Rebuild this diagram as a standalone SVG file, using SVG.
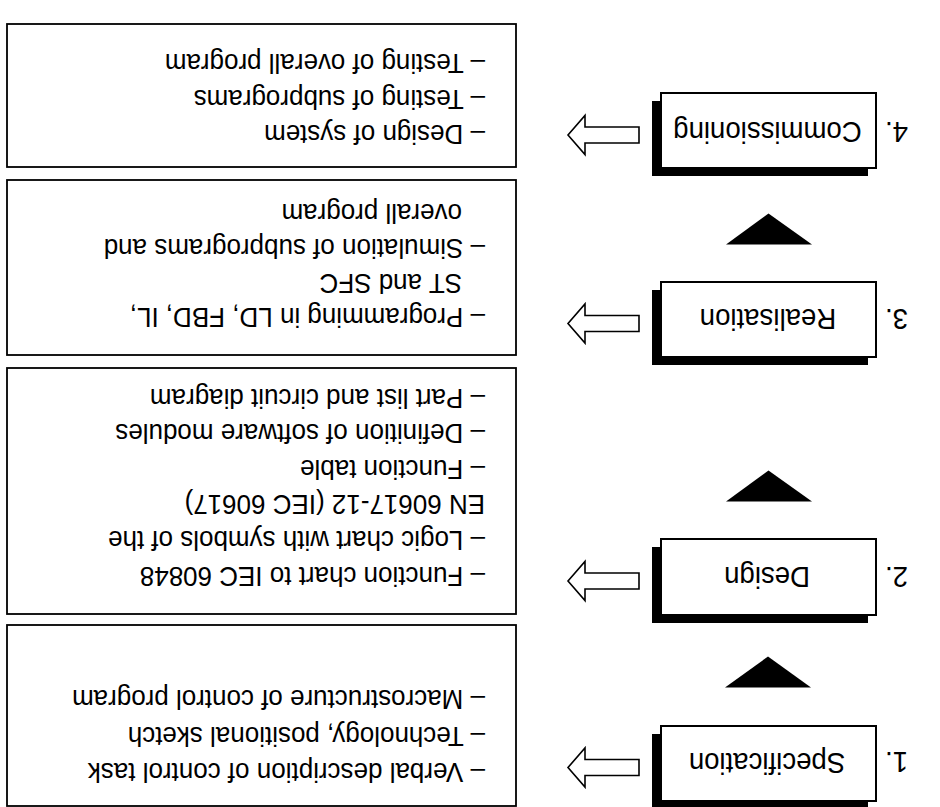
<svg xmlns="http://www.w3.org/2000/svg" width="940" height="807" viewBox="0 0 940 807">
<style>
.bg{fill:#fff}
.step{fill:#fff;stroke:#000;stroke-width:2}
.shadow{fill:#000}
.desc{fill:#fff;stroke:#000;stroke-width:1.8}
.lbl{font-family:"Liberation Sans",Arial,sans-serif;font-size:30px;fill:#000;text-anchor:middle}
.num{font-family:"Liberation Sans",Arial,sans-serif;font-size:30px;fill:#000}
.txt{font-family:"Liberation Sans",Arial,sans-serif;font-size:28.5px;fill:#000}
.harrow{fill:#fff;stroke:#000;stroke-width:1.6;stroke-linejoin:miter}
.tri{fill:#000}
</style>
<rect class="bg" x="0" y="0" width="940" height="807"/>
<g transform="rotate(180 470 403.5)">
  <g id="connectors">
    <polygon class="tri" points="129,119.5 215,119.5 172,150.5"/>
    <polygon class="tri" points="128,305.5 214,305.5 171.5,336.5"/>
    <polygon class="tri" points="128,562.5 214,562.5 171.5,593.5"/>
    <path class="harrow" d="M301,31.5 L355,31.5 L355,20 L372,39.5 L355,59 L355,47.5 L301,47.5 Z"/>
    <path class="harrow" d="M301,218 L355,218 L355,206.5 L372,226 L355,245.5 L355,234 L301,234 Z"/>
    <path class="harrow" d="M301,475.5 L355,475.5 L355,464 L372,483.5 L355,503 L355,491.5 L301,491.5 Z"/>
    <path class="harrow" d="M301,664 L355,664 L355,652.5 L372,672 L355,691.5 L355,680 L301,680 Z"/>
  </g>
  <g id="step1">
    <rect class="shadow" x="72" y="-2" width="216" height="75"/>
    <rect class="step" x="64" y="6" width="215" height="75"/>
    <text class="num" transform="translate(32 55) scale(0.92 1)">1.</text>
    <text class="lbl" transform="translate(173 54.5) scale(0.92 1)">Specification</text>
  </g>
  <g id="step2">
    <rect class="shadow" x="72" y="184" width="216" height="76"/>
    <rect class="step" x="64" y="192" width="215" height="76"/>
    <text class="num" transform="translate(32 240.5) scale(0.92 1)">2.</text>
    <text class="lbl" transform="translate(173 240.5) scale(0.92 1)">Design</text>
  </g>
  <g id="step3">
    <rect class="shadow" x="72" y="442" width="216" height="75"/>
    <rect class="step" x="64" y="450" width="215" height="75"/>
    <text class="num" transform="translate(32 498) scale(0.92 1)">3.</text>
    <text class="lbl" transform="translate(172 498) scale(0.92 1)">Realisation</text>
  </g>
  <g id="step4">
    <rect class="shadow" x="72" y="631" width="216" height="75"/>
    <rect class="step" x="64" y="639" width="215" height="75"/>
    <text class="num" transform="translate(32 685.5) scale(0.92 1)">4.</text>
    <text class="lbl" transform="translate(172.5 685.5) scale(0.92 1)">Commissioning</text>
  </g>
  <g id="desc1">
    <rect class="desc" x="424" y="1" width="509" height="181"/>
    <text class="txt" transform="translate(455 44) scale(0.912 1)">– Verbal description of control task</text>
    <text class="txt" transform="translate(455 80.5) scale(0.912 1)">– Technology, positional sketch</text>
    <text class="txt" transform="translate(455 117) scale(0.912 1)">– Macrostructure of control program</text>
  </g>
  <g id="desc2">
    <rect class="desc" x="424" y="193" width="509" height="246"/>
    <text class="txt" transform="translate(455 240.5) scale(0.912 1)">– Function chart to IEC 60848</text>
    <text class="txt" transform="translate(455 276.5) scale(0.912 1)">– Logic chart with symbols of the</text>
    <text class="txt" transform="translate(455 312) scale(0.912 1)">EN 60617-12 (IEC 60617)</text>
    <text class="txt" transform="translate(455 347.5) scale(0.912 1)">– Function table</text>
    <text class="txt" transform="translate(455 383) scale(0.912 1)">– Definition of software modules</text>
    <text class="txt" transform="translate(455 418.5) scale(0.912 1)">– Part list and circuit diagram</text>
  </g>
  <g id="desc3">
    <rect class="desc" x="424" y="452" width="509" height="175"/>
    <text class="txt" transform="translate(455 499) scale(0.912 1)">– Programming in LD, FBD, IL,</text>
    <text class="txt" transform="translate(478 533.5) scale(0.912 1)">ST and SFC</text>
    <text class="txt" transform="translate(455 568.5) scale(0.912 1)">– Simulation of subprograms and</text>
    <text class="txt" transform="translate(478 603.5) scale(0.912 1)">overall program</text>
  </g>
  <g id="desc4">
    <rect class="desc" x="424" y="640" width="509" height="143"/>
    <text class="txt" transform="translate(455 682) scale(0.912 1)">– Design of system</text>
    <text class="txt" transform="translate(455 717.5) scale(0.912 1)">– Testing of subprograms</text>
    <text class="txt" transform="translate(455 753) scale(0.912 1)">– Testing of overall program</text>
  </g>
</g>
</svg>
